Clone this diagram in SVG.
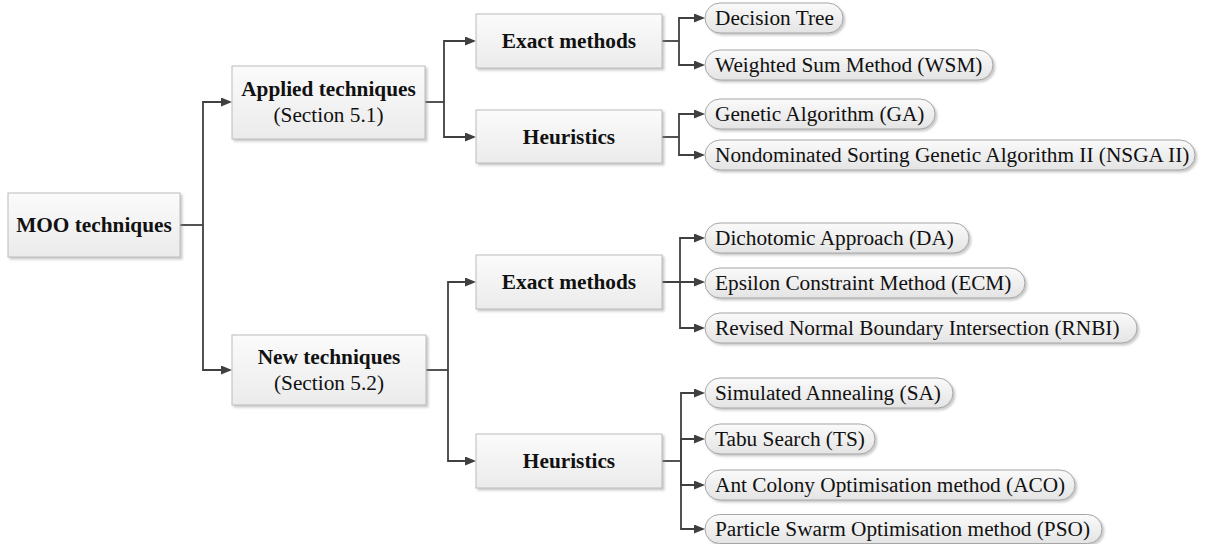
<svg xmlns="http://www.w3.org/2000/svg" width="1210" height="544" viewBox="0 0 1210 544">
  <defs>
    <linearGradient id="boxFill" x1="0" y1="0" x2="0" y2="1">
      <stop offset="0" stop-color="#fbfbfb"/>
      <stop offset="1" stop-color="#ebebeb"/>
    </linearGradient>
    <linearGradient id="pillFill" x1="0" y1="0" x2="0" y2="1">
      <stop offset="0" stop-color="#fafafa"/>
      <stop offset="1" stop-color="#e4e4e4"/>
    </linearGradient>
    <filter id="shadow" x="-5%" y="-20%" width="115%" height="150%">
      <feDropShadow dx="2" dy="2" stdDeviation="1" flood-color="#8a8a8a" flood-opacity="0.45"/>
    </filter>
    <marker id="arrow" markerUnits="userSpaceOnUse" markerWidth="11" markerHeight="10" refX="9" refY="4.5" orient="auto">
      <path d="M0,0 L11,4.5 L0,9 z" fill="#404040"/>
    </marker>
  </defs>
  <style>
    .box { fill: url(#boxFill); stroke: #bcbcbc; stroke-width: 1; filter: url(#shadow); }
    .pill { fill: url(#pillFill); stroke: #a6a6a6; stroke-width: 1; filter: url(#shadow); }
    .bold { font-family: "Liberation Serif", "Times New Roman", serif; font-size: 21.3px; font-weight: bold; fill: #111; text-anchor: middle; }
    .sub { font-family: "Liberation Serif", "Times New Roman", serif; font-size: 21.3px; fill: #111; text-anchor: middle; }
    .leaf { font-family: "Liberation Serif", "Times New Roman", serif; font-size: 21.3px; fill: #111; }
    .wire { fill: none; stroke: #404040; stroke-width: 1.8; }
    .wire.arr { marker-end: url(#arrow); }
  </style>

  <!-- connectors -->
  <g id="connectors">
    <!-- root to second level -->
    <path class="wire" d="M180,225 H203"/>
    <path class="wire arr" d="M203,225 V102 H230"/>
    <path class="wire arr" d="M203,225 V370 H230"/>
    <!-- applied techniques -->
    <path class="wire" d="M425,102 H444"/>
    <path class="wire arr" d="M444,102 V41 H474"/>
    <path class="wire arr" d="M444,102 V137 H474"/>
    <!-- new techniques -->
    <path class="wire" d="M426,370 H448"/>
    <path class="wire arr" d="M448,370 V282 H474"/>
    <path class="wire arr" d="M448,370 V461 H474"/>
    <!-- exact methods (applied) -->
    <path class="wire" d="M662,41 H679"/>
    <path class="wire arr" d="M679,41 V18 H703"/>
    <path class="wire arr" d="M679,41 V65 H703"/>
    <!-- heuristics (applied) -->
    <path class="wire" d="M662,137 H679"/>
    <path class="wire arr" d="M679,137 V114 H703"/>
    <path class="wire arr" d="M679,137 V155 H703"/>
    <!-- exact methods (new) -->
    <path class="wire arr" d="M662,282 H703"/>
    <path class="wire arr" d="M680,282 V238 H703"/>
    <path class="wire arr" d="M680,282 V328 H703"/>
    <!-- heuristics (new) -->
    <path class="wire" d="M662,461 H681"/>
    <path class="wire arr" d="M681,461 V393 H703"/>
    <path class="wire arr" d="M681,461 V439 H703"/>
    <path class="wire arr" d="M681,461 V485 H703"/>
    <path class="wire arr" d="M681,461 V529 H703"/>
  </g>

  <!-- first and second level -->
  <g id="moo">
    <rect class="box" x="8" y="193" width="172" height="64"/>
    <text class="bold" x="94" y="232">MOO techniques</text>
  </g>
  <g id="applied">
    <rect class="box" x="232" y="66" width="193" height="73"/>
    <text class="bold" x="328.5" y="96">Applied techniques</text>
    <text class="sub" x="328.5" y="122">(Section 5.1)</text>
  </g>
  <g id="new">
    <rect class="box" x="232" y="335" width="194" height="70"/>
    <text class="bold" x="329" y="364">New techniques</text>
    <text class="sub" x="329" y="390">(Section 5.2)</text>
  </g>

  <!-- method families -->
  <g id="exact-applied">
    <rect class="box" x="476" y="14" width="186" height="54"/>
    <text class="bold" x="569" y="48">Exact methods</text>
  </g>
  <g id="heuristics-applied">
    <rect class="box" x="476" y="110" width="186" height="53"/>
    <text class="bold" x="569" y="144">Heuristics</text>
  </g>
  <g id="exact-new">
    <rect class="box" x="476" y="255" width="186" height="54"/>
    <text class="bold" x="569" y="289">Exact methods</text>
  </g>
  <g id="heuristics-new">
    <rect class="box" x="476" y="434" width="186" height="54"/>
    <text class="bold" x="569" y="468">Heuristics</text>
  </g>

  <!-- individual methods -->
  <g id="decision-tree">
    <rect class="pill" x="705" y="3" width="138" height="30" rx="15"/>
    <text class="leaf" x="715" y="25">Decision Tree</text>
  </g>
  <g id="wsm">
    <rect class="pill" x="705" y="50" width="288" height="30" rx="15"/>
    <text class="leaf" x="715" y="72">Weighted Sum Method (WSM)</text>
  </g>
  <g id="ga">
    <rect class="pill" x="705" y="99" width="230" height="30" rx="15"/>
    <text class="leaf" x="715" y="121">Genetic Algorithm (GA)</text>
  </g>
  <g id="nsga">
    <rect class="pill" x="705" y="140" width="490" height="30" rx="15"/>
    <text class="leaf" x="715" y="162">Nondominated Sorting Genetic Algorithm II (NSGA II)</text>
  </g>
  <g id="da">
    <rect class="pill" x="705" y="223" width="264" height="30" rx="15"/>
    <text class="leaf" x="715" y="245">Dichotomic Approach (DA)</text>
  </g>
  <g id="ecm">
    <rect class="pill" x="705" y="268" width="320" height="30" rx="15"/>
    <text class="leaf" x="715" y="290">Epsilon Constraint Method (ECM)</text>
  </g>
  <g id="rnbi">
    <rect class="pill" x="705" y="313" width="432" height="30" rx="15"/>
    <text class="leaf" x="715" y="335">Revised Normal Boundary Intersection (RNBI)</text>
  </g>
  <g id="sa">
    <rect class="pill" x="705" y="378" width="248" height="30" rx="15"/>
    <text class="leaf" x="715" y="400">Simulated Annealing (SA)</text>
  </g>
  <g id="ts">
    <rect class="pill" x="705" y="424" width="170" height="30" rx="15"/>
    <text class="leaf" x="715" y="446">Tabu Search (TS)</text>
  </g>
  <g id="aco">
    <rect class="pill" x="705" y="470" width="370" height="30" rx="15"/>
    <text class="leaf" x="715" y="492">Ant Colony Optimisation method (ACO)</text>
  </g>
  <g id="pso">
    <rect class="pill" x="705" y="514.5" width="397" height="29" rx="14.5"/>
    <text class="leaf" x="715" y="536">Particle Swarm Optimisation method (PSO)</text>
  </g>
</svg>
